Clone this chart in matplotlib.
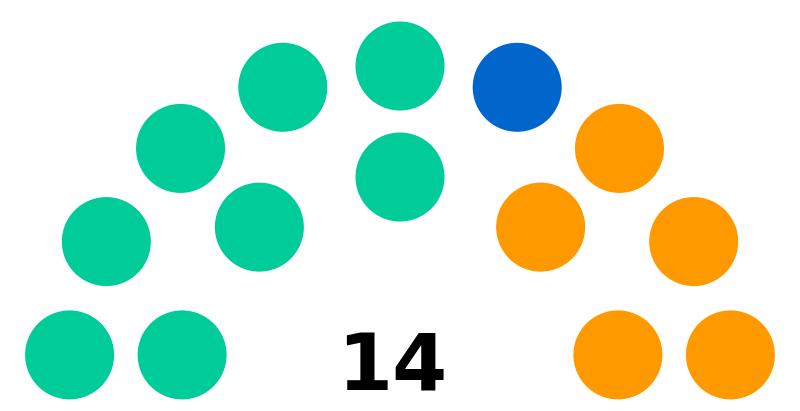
import numpy as np
import matplotlib
matplotlib.use('Agg')
import matplotlib.pyplot as plt
from matplotlib.patches import Circle

# parties and their seats, left to right
parties = ['Green', 'Blue', 'Orange']
seats = [8, 1, 5]
colors = ['#00CC99', '#0066CC', '#FF9900']
total_label = '14'

# seats per row (inner, outer)
row_seats = [5, 9]
row_radius = [222.4, 333.4]
seat_r = 44.5
cx, cy = 400.0, 399.4

# seat positions: spread each row over the arch, then sort by angle from left
pos = []
for n, R in zip(row_seats, row_radius):
    a0 = np.arcsin(seat_r / R)
    for a in np.linspace(np.pi - a0, a0, n):
        pos.append((a, cx + R*np.cos(a), cy - R*np.sin(a)))
pos.sort(key=lambda p: -p[0])

seat_colors = []
for s, c in zip(seats, colors):
    seat_colors += [c]*s

fig = plt.figure(figsize=(8, 4.11), dpi=100)
ax = fig.add_axes([0, 0, 1, 1])
for (a, x, y), c in zip(pos, seat_colors):
    ax.add_patch(Circle((x, y), seat_r, color=c, lw=0))
ax.text(cx - 8, 390, total_label, ha='center', va='baseline', fontsize=57,
        fontweight='bold', family='DejaVu Sans', color='black')
ax.set_xlim(0, 800)
ax.set_ylim(411, 0)
ax.set_aspect('equal')
ax.axis('off')
fig.savefig('out.png', dpi=100)
